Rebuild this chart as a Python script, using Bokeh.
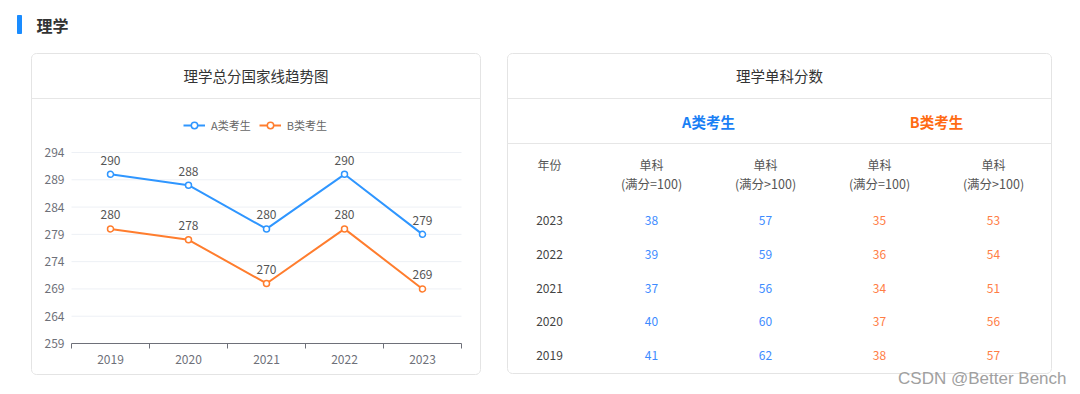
from bokeh.plotting import figure
from bokeh.models import Range1d, LinearAxis, FixedTicker, Legend, LegendItem
from bokeh.core.properties import value
from bokeh.embed import file_html
from bokeh.resources import INLINE
import numpy as np

# ---------------- data ----------------
years = [2019, 2020, 2021, 2022, 2023]
series_a = [290, 288, 280, 290, 279]
series_b = [280, 278, 270, 280, 269]
y_ticks = [259, 264, 269, 274, 279, 284, 289, 294]

tbl_years = ["2023", "2022", "2021", "2020", "2019"]
a_eq100 = [38, 39, 37, 40, 41]
a_gt100 = [57, 59, 56, 60, 62]
b_eq100 = [35, 36, 34, 37, 38]
b_gt100 = [53, 54, 51, 56, 57]
tbl_head_top = ["年份", "单科", "单科", "单科", "单科"]
tbl_head_sub = ["", "(满分=100)", "(满分>100)", "(满分=100)", "(满分>100)"]

# ---------------- layout ----------------
W, H = 1080, 394
FL, FR, FT, FB = 71, 461, 152, 343          # line-chart plot area (page px)
FONT_NAME = "Noto Sans CJK SC"
FONT = value(FONT_NAME)
BLUE = "#2f96ff"
ORANGE = "#ff7d2e"

x_lo, x_hi = years[0] - 0.5, years[-1] + 0.5
ppx = (FR - FL) / (x_hi - x_lo)
ppy = (FB - FT) / (y_ticks[-1] - y_ticks[0])
x_range = Range1d(x_lo - FL / ppx, x_hi + (W - FR) / ppx)
y_range = Range1d(y_ticks[0] - (H - FB) / ppy, y_ticks[-1] + FT / ppy)

p = figure(width=W, height=H, x_range=x_range, y_range=y_range,
           x_axis_type=None, y_axis_type=None, toolbar_location=None,
           output_backend="svg", min_border=0)
p.outline_line_color = None
p.background_fill_color = "white"
p.border_fill_color = "white"
p.extra_x_ranges = {"px": Range1d(0, W)}
p.extra_y_ranges = {"px": Range1d(H, 0)}
PX = dict(x_range_name="px", y_range_name="px")


def rounded(l, r, t, b, rad=5, n=6):
    xs, ys = [], []
    for cx, cy, a0 in [(r - rad, t + rad, -90), (r - rad, b - rad, 0),
                       (l + rad, b - rad, 90), (l + rad, t + rad, 180)]:
        ang = np.radians(np.linspace(a0, a0 + 90, n))
        xs += list(cx + rad * np.cos(ang))
        ys += list(cy + rad * np.sin(ang))
    return xs, ys


# page title
p.quad(left=[17], right=[21], top=[15], bottom=[33], color="#1a8cff", **PX)
p.text(x=[36], y=[24], text=["理学"], text_font=FONT, text_font_size="16px",
       text_font_style="bold", text_color="#333333", text_baseline="middle", **PX)

# panels
panels_l = [31, 507]
panels_r = [480, 1051]
panels_b = [374, 373]
pxs, pys = [], []
for l, r, b in zip(panels_l, panels_r, panels_b):
    xs, ys = rounded(l, r, 53, b)
    pxs.append(xs)
    pys.append(ys)
p.patches(pxs, pys, fill_color="white", line_color="#e4e4e4", line_width=1, **PX)
p.segment(x0=panels_l, x1=panels_r, y0=[98, 98], y1=[98, 98],
          line_color="#e6e6e6", line_width=1, **PX)
p.segment(x0=[507], x1=[1051], y0=[143], y1=[143], line_color="#e6e6e6", line_width=1, **PX)
p.text(x=[(31 + 480) / 2, (507 + 1051) / 2], y=[75, 75],
       text=["理学总分国家线趋势图", "理学单科分数"], text_font=FONT,
       text_font_size="14.5px", text_color="#333333", text_align="center",
       text_baseline="middle", **PX)

# ---------------- line chart ----------------
gy = [t for t in y_ticks[1:]]
p.segment(x0=[x_lo] * len(gy), x1=[x_hi] * len(gy), y0=gy, y1=gy,
          line_color="#edf0f5", line_width=1)

la = p.line(years, series_a, line_color=BLUE, line_width=2)
ca = p.scatter(years, series_a, size=6, fill_color="white", line_color=BLUE, line_width=1.5)
lb = p.line(years, series_b, line_color=ORANGE, line_width=2)
cb = p.scatter(years, series_b, size=6, fill_color="white", line_color=ORANGE, line_width=1.5)

p.text(x=years + years, y=series_a + series_b,
       text=[str(v) for v in series_a + series_b], text_font=FONT,
       text_font_size="12px", text_color="#555555", text_align="center",
       text_baseline="middle", y_offset=-14)

xaxis = LinearAxis(fixed_location=y_ticks[0], bounds=(x_lo, x_hi),
                   ticker=FixedTicker(ticks=years, minor_ticks=[y - 0.5 for y in years] + [x_hi]))
xaxis.axis_line_color = "#6e7079"
xaxis.major_tick_line_color = None
xaxis.major_tick_out = 0
xaxis.major_tick_in = 0
xaxis.minor_tick_line_color = "#6e7079"
xaxis.minor_tick_out = 5
xaxis.minor_tick_in = 0
xaxis.major_label_standoff = 6
xaxis.major_label_text_font = FONT_NAME
xaxis.major_label_text_font_size = "12px"
xaxis.major_label_text_color = "#6e7079"
p.add_layout(xaxis, "below")

yaxis = LinearAxis(fixed_location=x_lo, bounds=(y_ticks[0], y_ticks[-1]),
                   ticker=FixedTicker(ticks=y_ticks))
yaxis.axis_line_color = None
yaxis.major_tick_line_color = None
yaxis.minor_tick_line_color = None
yaxis.major_tick_out = 0
yaxis.major_tick_in = 0
yaxis.major_label_standoff = 7
yaxis.major_label_text_font = FONT_NAME
yaxis.major_label_text_font_size = "12px"
yaxis.major_label_text_color = "#6e7079"
p.add_layout(yaxis, "left")

legend = Legend(items=[LegendItem(label="A类考生", renderers=[la, ca]),
                       LegendItem(label="B类考生", renderers=[lb, cb])],
                orientation="horizontal", location=(183, H - 133))
legend.border_line_color = None
legend.background_fill_alpha = 0
legend.padding = 0
legend.margin = 0
legend.spacing = 8
legend.glyph_width = 22
legend.glyph_height = 16
legend.label_standoff = 6
legend.label_text_font = FONT_NAME
legend.label_text_font_size = "11px"
legend.label_text_color = "#666666"
p.add_layout(legend)

# ---------------- table ----------------
col_x = [549, 651, 765, 879, 993]
p.text(x=[(col_x[1] + col_x[2]) / 2, (col_x[3] + col_x[4]) / 2], y=[121, 121],
       text=["A类考生", "B类考生"], text_color=["#1a7ff5", "#ff6a13"], text_font=FONT,
       text_font_size="14.5px", text_font_style="bold", text_align="center",
       text_baseline="middle", **PX)
p.text(x=col_x, y=[164] * 5, text=tbl_head_top, text_font=FONT, text_font_size="12px",
       text_color="#555555", text_align="center", text_baseline="middle", **PX)
p.text(x=col_x[1:], y=[183] * 4, text=tbl_head_sub[1:], text_font=FONT, text_font_size="12.5px",
       text_color="#555555", text_align="center", text_baseline="middle", **PX)

row_y = 220 + 33.75 * np.arange(len(tbl_years))
p.text(x=[col_x[0]] * 5, y=row_y, text=tbl_years, text_font=FONT, text_font_size="12px",
       text_color="#444444", text_align="center", text_baseline="middle", **PX)
cols = [a_eq100, a_gt100, b_eq100, b_gt100]
colors = ["#3d8bff", "#3d8bff", "#ff7d45", "#ff7d45"]
for k, (vals, c) in enumerate(zip(cols, colors)):
    p.text(x=[col_x[k + 1]] * 5, y=row_y, text=[str(v) for v in vals], text_font=FONT,
           text_font_size="12px", text_color=c, text_align="center",
           text_baseline="middle", **PX)

# watermark
p.text(x=[1066], y=[378], text=["CSDN @Better Bench"], text_font=value("Liberation Sans"),
       text_font_size="17px", text_color="#a0a0a0", text_align="right",
       text_baseline="middle", **PX)

open("out.html", "w").write(file_html(p, INLINE))
